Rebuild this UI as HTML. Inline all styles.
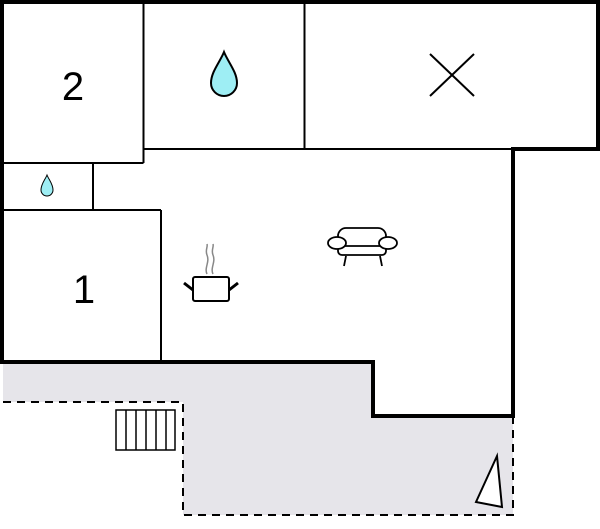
<!DOCTYPE html>
<html><head><style>html,body{margin:0;padding:0;background:#fff;}svg{display:block;}</style></head>
<body>
<svg width="600" height="529" viewBox="0 0 600 529" xmlns="http://www.w3.org/2000/svg">
<polygon points="3,362 373,362 373,416 513,416 513,515 183,515 183,402 3,402" fill="#e6e5ea"/>
<polyline points="3,402 183,402 183,515 513,515 513,416" fill="none" stroke="#000" stroke-width="2" stroke-dasharray="8,6"/>
<polygon points="2,2 598,2 598,149 513,149 513,416 373,416 373,362 2,362" fill="#fff" stroke="#000" stroke-width="4"/>
<g stroke="#000" stroke-width="2" fill="none">
<line x1="143.5" y1="3" x2="143.5" y2="163"/>
<line x1="3" y1="163" x2="143.5" y2="163"/>
<line x1="304.5" y1="3" x2="304.5" y2="149"/>
<line x1="143.5" y1="149" x2="513" y2="149"/>
<line x1="93" y1="163" x2="93" y2="210"/>
<line x1="3" y1="210" x2="161" y2="210"/>
<line x1="161" y1="210" x2="161" y2="362"/>
<line x1="430" y1="54" x2="474" y2="96"/>
<line x1="474" y1="54" x2="430" y2="96"/>
</g>
<path d="M224,52 C220,62 211,72 211,83 A13,13 0 0 0 237,83 C237,72 228,62 224,52 Z" fill="#9eeef4" stroke="#000" stroke-width="2"/>
<path d="M47,175 C45,180 41,184 41,190 A6,6 0 0 0 53,190 C53,184 49,180 47,175 Z" fill="#9eeef4" stroke="#000" stroke-width="1"/>
<text x="73" y="100" font-family="Liberation Sans, sans-serif" font-size="40" text-anchor="middle">2</text>
<text x="84" y="303" font-family="Liberation Sans, sans-serif" font-size="40" text-anchor="middle">1</text>
<!-- stairs -->
<g stroke="#000" stroke-width="1.5" fill="#fff">
<rect x="116" y="410" width="59" height="40"/>
<line x1="126" y1="410" x2="126" y2="450"/><line x1="136" y1="410" x2="136" y2="450"/>
<line x1="146" y1="410" x2="146" y2="450"/><line x1="156" y1="410" x2="156" y2="450"/>
<line x1="166" y1="410" x2="166" y2="450"/>
</g>
<polygon points="476,502 497,456 502,507" fill="#fff" stroke="#000" stroke-width="2"/>
<!-- pot -->
<g fill="none" stroke="#888" stroke-width="1.5">
<path d="M207,274 C204,268 210,262 207,255 C205,250 208,247 207,244"/>
<path d="M213,274 C210,268 216,262 213,255 C211,250 214,247 213,244"/>
</g>
<rect x="193" y="277" width="36" height="24" rx="2" fill="#fff" stroke="#000" stroke-width="2"/>
<line x1="184" y1="283" x2="193" y2="290" stroke="#000" stroke-width="3"/>
<line x1="238" y1="283" x2="229" y2="290" stroke="#000" stroke-width="3"/>
<!-- sofa -->
<g fill="#fff" stroke="#000" stroke-width="1.8">
<rect x="338" y="228" width="48" height="26" rx="8"/>
<rect x="338" y="246" width="48" height="9" rx="4"/>
<ellipse cx="337" cy="243" rx="9" ry="6"/>
<ellipse cx="388" cy="243" rx="9" ry="6"/>
<line x1="346" y1="256" x2="344" y2="266"/>
<line x1="380" y1="256" x2="382" y2="266"/>
</g>
</svg>
</body></html>
